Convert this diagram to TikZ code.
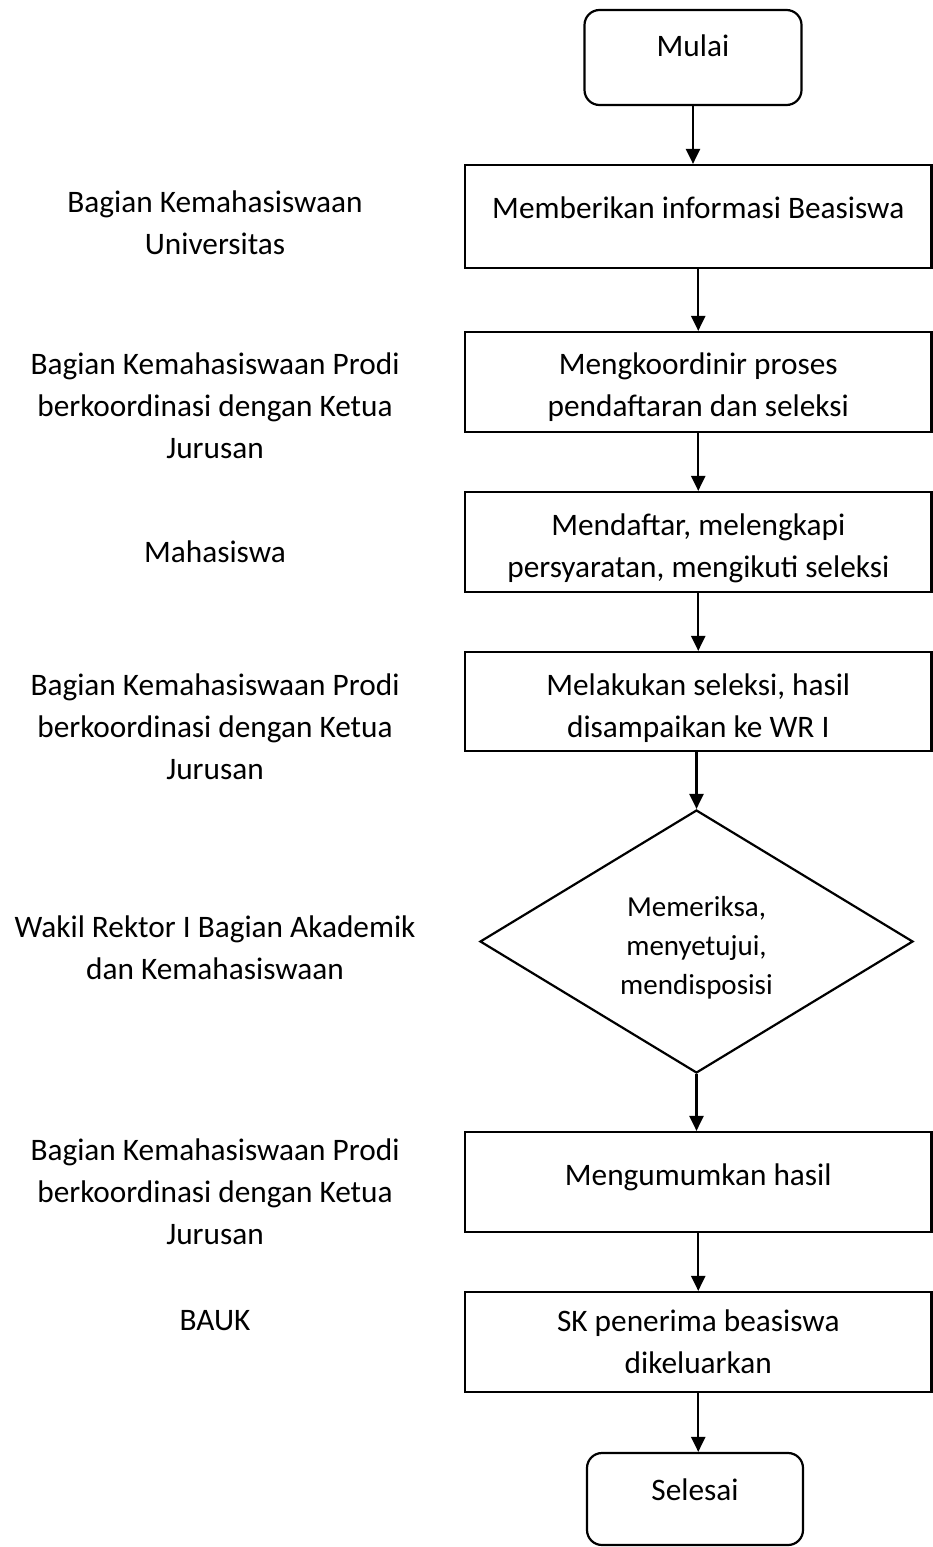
\documentclass[tikz,border=0pt]{standalone}
\usepackage{fontspec}
\setmainfont{Carlito}
\usetikzlibrary{arrows.meta,shapes.geometric}
\begin{document}
\begin{tikzpicture}[x=1pt,y=-1pt,
  every node/.style={inner sep=0pt, align=center, font=\fontsize{31.3}{42}\selectfont},
  stepbox/.style={draw, line width=2.2pt, minimum width=466.5pt},
  termbox/.style={draw, line width=2.2pt, rounded corners=15pt},
  decision/.style={draw, line width=2.2pt, diamond, shape aspect=1.65,
    minimum width=433pt, minimum height=263pt, font=\fontsize{29}{39}\selectfont},
  role/.style={anchor=north, text height=30pt, text depth=10pt},
  flow/.style={line width=2.2pt, -{Triangle[length=15pt,width=14pt]}}
]
\useasboundingbox (0,0) rectangle (933,1547);

% process column (multi-line text sits on the baseline of its last line)
\node[termbox, minimum width=217pt, minimum height=95pt, text height=46pt, text depth=49pt]
  (start) at (693,57.5) {Mulai};
\node[stepbox, minimum height=103pt, text height=53.5pt, text depth=49.5pt]
  (b1) at (698.25,216.5) {Memberikan informasi Beasiswa};
\node[stepbox, minimum height=100pt, text height=84.5pt, text depth=15.5pt]
  (b2) at (698.25,382) {Mengkoordinir proses\\pendaftaran dan seleksi};
\node[stepbox, minimum height=100pt, text height=85.5pt, text depth=14.5pt]
  (b3) at (698.25,542) {Mendaftar, melengkapi\\persyaratan, mengikuti seleksi};
\node[stepbox, minimum height=99pt, text height=85.5pt, text depth=13.5pt]
  (b4) at (698.25,701.5) {Melakukan seleksi, hasil\\disampaikan ke WR I};
\node[decision, text height=115pt, text depth=10pt]
  (dec) at (696.5,941.5) {Memeriksa,\\menyetujui,\\mendisposisi};
\node[stepbox, minimum height=100pt, text height=53.5pt, text depth=46.5pt]
  (b5) at (698.25,1182) {Mengumumkan hasil};
\node[stepbox, minimum height=100pt, text height=81pt, text depth=19pt]
  (b6) at (698.25,1342) {SK penerima beasiswa\\dikeluarkan};
\node[termbox, minimum width=216pt, minimum height=92pt, text height=47pt, text depth=45pt]
  (end) at (695,1499) {Selesai};

% responsible parties
\node[role] (r1) at (215,224.5) {Bagian Kemahasiswaan\\Universitas};
\node[role] (r2) at (215,428.5) {Bagian Kemahasiswaan Prodi\\berkoordinasi dengan Ketua\\Jurusan};
\node[role] (r3) at (215,532.5) {Mahasiswa};
\node[role] (r4) at (215,749) {Bagian Kemahasiswaan Prodi\\berkoordinasi dengan Ketua\\Jurusan};
\node[role] (r5) at (215,949.5) {Wakil Rektor I Bagian Akademik\\dan Kemahasiswaan};
\node[role] (r6) at (215,1214.5) {Bagian Kemahasiswaan Prodi\\berkoordinasi dengan Ketua\\Jurusan};
\node[role] (r7) at (215,1300) {BAUK};

% connectors
\draw[flow] (start.south) -- (start.south |- b1.north);
\draw[flow] (b1.south) -- (b2.north);
\draw[flow] (b2.south) -- (b3.north);
\draw[flow] (b3.south) -- (b4.north);
\draw[flow] (b4.south -| dec.north) -- (dec.north);
\draw[flow] (dec.south) -- (dec.south |- b5.north);
\draw[flow] (b5.south) -- (b6.north);
\draw[flow] (b6.south) -- (b6.south |- end.north);
\end{tikzpicture}
\end{document}
